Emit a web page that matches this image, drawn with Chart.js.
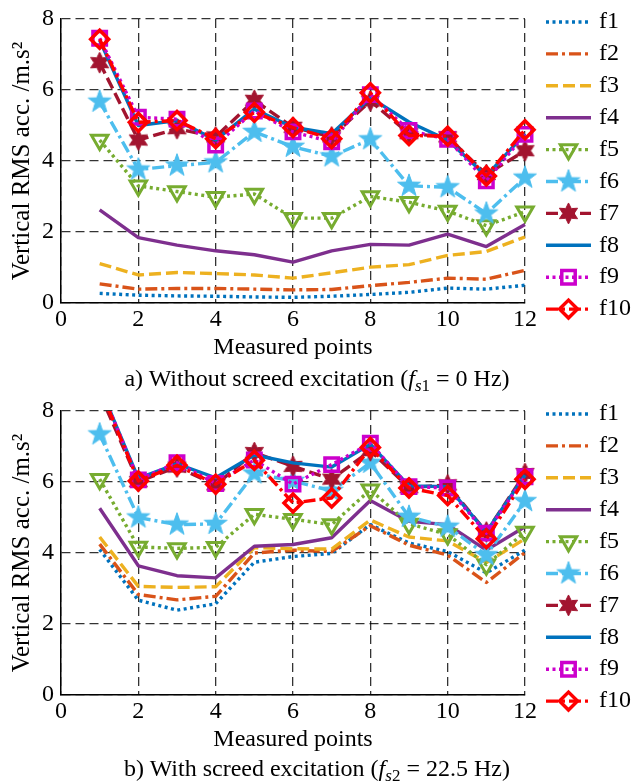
<!DOCTYPE html>
<html>
<head>
<meta charset="utf-8">
<script src="https://cdn.jsdelivr.net/npm/chart.js@4.4.1/dist/chart.umd.min.js"></script>
<style>
  html, body { margin: 0; padding: 0; background: #fff; }
  body { width: 634px; height: 783px; position: relative; overflow: hidden; font-family: "Liberation Serif", "Times New Roman", serif; }
  canvas { position: absolute; left: 0; }
  #c1 { top: 0; }
  #c2 { top: 392px; }
  .cap { position: absolute; left: 0; width: 634px; text-align: center; font-size: 24px; color: #000; line-height: 1; white-space: nowrap; }
  .cap sub { font-size: 17px; vertical-align: -5px; line-height: 0; }
  #cap1 { top: 366px; }
  #cap2 { top: 756px; }
</style>
</head>
<body>
<canvas id="c1" width="634" height="365"></canvas>
<canvas id="c2" width="634" height="365"></canvas>
<div class="cap" id="cap1">a) Without screed excitation (<i>f</i><sub><i>s</i>1</sub> = 0 Hz)</div>
<div class="cap" id="cap2">b) With screed excitation (<i>f</i><sub><i>s</i>2</sub> = 22.5 Hz)</div>
<script>
// ---------- data ----------
const measuredPoints = [1, 2, 3, 4, 5, 6, 7, 8, 9, 10, 11, 12];
const seriesNames = ['f1', 'f2', 'f3', 'f4', 'f5', 'f6', 'f7', 'f8', 'f9', 'f10'];
const xTicks = [0, 2, 4, 6, 8, 10, 12];
const yTicks = [0, 2, 4, 6, 8];

// a) without screed excitation
const a_f1  = [0.27, 0.22, 0.20, 0.19, 0.17, 0.16, 0.19, 0.24, 0.30, 0.42, 0.39, 0.50];
const a_f2  = [0.54, 0.39, 0.41, 0.41, 0.39, 0.37, 0.38, 0.49, 0.58, 0.70, 0.67, 0.92];
const a_f3  = [1.11, 0.79, 0.86, 0.83, 0.79, 0.70, 0.85, 1.01, 1.08, 1.34, 1.45, 1.86];
const a_f4  = [2.62, 1.84, 1.63, 1.47, 1.36, 1.15, 1.47, 1.65, 1.63, 1.94, 1.59, 2.21];
const a_f5  = [4.59, 3.30, 3.14, 2.98, 3.07, 2.39, 2.39, 3.00, 2.84, 2.59, 2.18, 2.57];
const a_f6  = [5.67, 3.76, 3.87, 3.96, 4.82, 4.40, 4.13, 4.61, 3.30, 3.26, 2.52, 3.53];
const a_f7  = [6.77, 4.59, 4.91, 4.68, 5.71, 4.95, 4.68, 5.69, 4.77, 4.68, 3.62, 4.29];
const a_f8  = [7.40, 5.00, 5.14, 4.59, 5.46, 4.95, 4.77, 5.78, 5.10, 4.59, 3.58, 4.77];
const a_f9  = [7.46, 5.23, 5.18, 4.45, 5.41, 4.82, 4.54, 5.87, 4.86, 4.61, 3.44, 4.75];
const a_f10 = [7.43, 5.09, 5.14, 4.63, 5.37, 4.94, 4.63, 5.92, 4.72, 4.70, 3.58, 4.88];

// b) with screed excitation
const b_f1  = [4.10, 2.67, 2.39, 2.57, 3.74, 3.90, 3.99, 4.80, 4.28, 4.04, 3.44, 4.08];
const b_f2  = [4.25, 2.83, 2.68, 2.78, 4.00, 4.08, 4.04, 4.77, 4.22, 3.94, 3.17, 4.01];
const b_f3  = [4.45, 3.06, 3.03, 3.05, 4.15, 4.12, 4.11, 4.93, 4.45, 4.34, 3.73, 4.40];
const b_f4  = [5.26, 3.64, 3.36, 3.30, 4.19, 4.24, 4.43, 5.48, 4.89, 4.80, 4.08, 4.74];
const b_f5  = [6.08, 4.17, 4.13, 4.16, 5.09, 4.95, 4.80, 5.78, 4.82, 4.52, 3.67, 4.59];
const b_f6  = [7.34, 5.00, 4.80, 4.82, 6.24, 6.03, 5.75, 6.54, 5.02, 4.74, 3.94, 5.46];
const b_f7  = [8.50, 6.01, 6.42, 5.92, 6.83, 6.44, 6.08, 6.88, 5.84, 5.92, 4.59, 6.24];
const b_f8  = [8.70, 6.10, 6.51, 6.12, 6.76, 6.54, 6.42, 7.06, 5.89, 5.87, 4.59, 6.19];
const b_f9  = [8.70, 6.06, 6.54, 5.96, 6.62, 5.94, 6.49, 7.09, 5.87, 5.83, 4.56, 6.15];
const b_f10 = [8.65, 6.03, 6.47, 5.94, 6.61, 5.41, 5.55, 6.97, 5.83, 5.62, 4.40, 6.08];

const seriesA = [a_f1, a_f2, a_f3, a_f4, a_f5, a_f6, a_f7, a_f8, a_f9, a_f10];
const seriesB = [b_f1, b_f2, b_f3, b_f4, b_f5, b_f6, b_f7, b_f8, b_f9, b_f10];

// ---------- marker images ----------
function starCanvas(nPts, outerR, innerR, color) {
  const s = Math.ceil(outerR * 2 + 2);
  const c = document.createElement('canvas');
  c.width = s; c.height = s;
  const g = c.getContext('2d');
  g.translate(s / 2, s / 2);
  g.beginPath();
  for (let k = 0; k < nPts * 2; k++) {
    const r = k % 2 === 0 ? outerR : innerR;
    const a = -Math.PI / 2 + k * Math.PI / nPts;
    const px = r * Math.cos(a), py = r * Math.sin(a);
    if (k === 0) g.moveTo(px, py); else g.lineTo(px, py);
  }
  g.closePath();
  g.fillStyle = color;
  g.fill();
  g.strokeStyle = color; g.lineWidth = 1; g.stroke();
  return c;
}
const pentagram = starCanvas(5, 12, 4.8, '#4DBEEE');
const hexagram = starCanvas(6, 10.5, 5.6, '#A2142F');

// ---------- styles ----------
const DOT = [3, 3.5];
const DASH = [12, 5];
const DASHDOT = [12, 4, 3, 4];
const clear = 'rgba(0,0,0,0)';
const styles = [
  { color: '#0072BD', dash: DOT },
  { color: '#D95319', dash: DASHDOT },
  { color: '#EDB120', dash: DASH },
  { color: '#7E2F8E', dash: [] },
  { color: '#77AC30', dash: DOT, marker: 'triangle', rot: 180, radius: 9.5, bw: 3, fill: clear },
  { color: '#4DBEEE', dash: DASHDOT, marker: pentagram, radius: 12, bw: 0, fill: '#4DBEEE' },
  { color: '#A2142F', dash: DASH, marker: hexagram, radius: 10.5, bw: 0, fill: '#A2142F' },
  { color: '#0072BD', dash: [] },
  { color: '#CC00CC', dash: DOT, marker: 'rect', radius: 9.5, bw: 3.5, fill: clear },
  { color: '#FF0000', dash: DASHDOT, marker: 'rectRot', radius: 9, bw: 3.5, fill: clear }
];

function buildDatasets(series) {
  return series.map((vals, i) => {
    const st = styles[i];
    return {
      label: seriesNames[i],
      data: measuredPoints.map((x, k) => ({ x: x, y: vals[k] })),
      borderColor: st.color,
      borderWidth: 3.4,
      borderDash: st.dash,
      borderCapStyle: 'butt',
      borderJoinStyle: 'round',
      tension: 0,
      fill: false,
      pointStyle: st.marker || 'circle',
      pointRadius: st.marker ? st.radius : 0,
      pointHoverRadius: st.marker ? st.radius : 0,
      pointBorderWidth: st.bw || 0,
      pointBorderColor: st.color,
      pointBackgroundColor: st.fill || st.color,
      pointRotation: st.rot || 0,
      order: seriesNames.length - i,
      clip: { left: 20, right: 20, top: 0, bottom: 20 }
    };
  });
}

const FONT = '"Liberation Serif", "Times New Roman", serif';

const sideLegend = {
  id: 'sideLegend',
  afterDraw(chart) {
    const ctx = chart.ctx;
    const area = chart.chartArea;
    const x0 = area.right + 21, x1 = area.right + 66, xm = (x0 + x1) / 2, xt = area.right + 74;
    chart.data.datasets.forEach((ds, i) => {
      const y = area.top + 3 + i * 31.9;
      ctx.save();
      ctx.strokeStyle = ds.borderColor;
      ctx.lineWidth = ds.borderWidth;
      ctx.lineCap = 'butt';
      ctx.setLineDash(ds.borderDash || []);
      ctx.beginPath(); ctx.moveTo(x0, y); ctx.lineTo(x1, y); ctx.stroke();
      ctx.setLineDash([]);
      if (ds.pointRadius > 0) {
        ctx.fillStyle = ds.pointBackgroundColor;
        ctx.strokeStyle = ds.pointBorderColor;
        ctx.lineWidth = ds.pointBorderWidth;
        Chart.helpers.drawPoint(ctx, {
          pointStyle: ds.pointStyle, rotation: ds.pointRotation || 0,
          radius: ds.pointRadius, borderWidth: ds.pointBorderWidth
        }, xm, y);
      }
      ctx.fillStyle = '#000';
      ctx.font = '24px ' + FONT;
      ctx.textBaseline = 'middle';
      ctx.textAlign = 'left';
      ctx.fillText(ds.label, xt, y);
      ctx.restore();
    });
  }
};

function makeChart(id, series) {
  const tickFont = { family: FONT, size: 24, lineHeight: 1 };
  const titleFont = { family: FONT, size: 25, lineHeight: 1 };
  return new Chart(document.getElementById(id), {
    type: 'line',
    data: { datasets: buildDatasets(series) },
    options: {
      responsive: false,
      animation: false,
      devicePixelRatio: 1,
      events: [],
      layout: { padding: { left: 0, right: 109, top: 12, bottom: 0 } },
      plugins: { legend: { display: false }, tooltip: { enabled: false } },
      scales: {
        x: {
          type: 'linear',
          min: xTicks[0], max: xTicks[xTicks.length - 1],
          afterBuildTicks: s => { s.ticks = xTicks.map(v => ({ value: v })); },
          afterFit: s => { s.height = 62; },
          ticks: { color: '#000', font: tickFont, padding: 5, maxRotation: 0, autoSkip: false },
          grid: { color: 'rgba(0,0,0,0.8)', lineWidth: 1.3, drawTicks: false },
          border: { display: true, color: '#000', width: 1.5, dash: [9, 5] },
          title: { display: true, text: 'Measured points', color: '#000', font: tickFont, padding: { top: 0, bottom: 5 } }
        },
        y: {
          type: 'linear',
          min: yTicks[0], max: yTicks[yTicks.length - 1],
          afterBuildTicks: s => { s.ticks = yTicks.map(v => ({ value: v })); },
          afterFit: s => { s.width = 61; },
          ticks: { color: '#000', font: tickFont, padding: 7 },
          grid: { color: 'rgba(0,0,0,0.8)', lineWidth: 1.3, drawTicks: false },
          border: { display: true, color: '#000', width: 1.5, dash: [9, 5] },
          title: { display: true, text: 'Vertical RMS acc. /m.s²', color: '#000', font: titleFont, padding: { top: 10, bottom: 0 } }
        }
      }
    },
    plugins: [sideLegend]
  });
}

makeChart('c1', seriesA);
makeChart('c2', seriesB);
</script>
</body>
</html>
